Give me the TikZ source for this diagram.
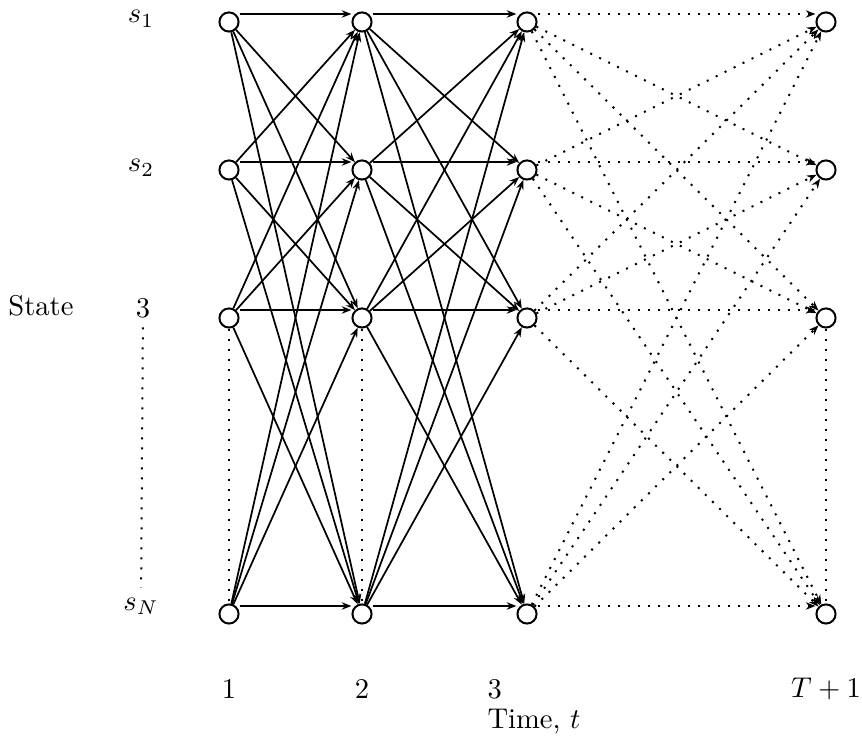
\documentclass[tikz,border=0pt]{standalone}
\usepackage{tikz}
\usetikzlibrary{arrows.meta}

\begin{document}
\begin{tikzpicture}[x=0.35pt,y=-0.35pt,
    st/.style={circle,draw,line width=0.7pt,minimum size=6.7pt,inner sep=0pt},
    tr/.style={line width=0.6pt,-{Stealth[length=3.4pt,width=2.6pt]}},
    dots/.style={line width=0.7pt,dash pattern=on 0.7pt off 2.8pt},
    dtr/.style={dots,-{Stealth[length=3.4pt,width=2.6pt,line width=0.4pt]}}]
  \useasboundingbox (0,0) rectangle (862,742);

  % trellis nodes: columns 1,2,3,T+1 and rows s_1, s_2, 3, s_N
  \foreach \c/\x in {1/229,2/362,3/527,4/826}{
    \foreach \r/\y in {1/22,2/170,3/318,4/614}{
      \node[st] (n\c-\r) at (\x,\y) {};
    }
  }

  % state labels on the left
  \node (l1) at (141,19) {$s_1$};
  \node (l2) at (141,168) {$s_2$};
  \node (l3) at (143,308) {$3$};
  \node (l4) at (141,606) {$s_N$};
  \node (state) at (41,306) {State};
  \draw[dots] (l3) -- (l4);

  % solid transitions 1->2 and 2->3
  \foreach \c/\d in {1/2,2/3}{
    \foreach \i in {1,...,4}{
      \foreach \j in {1,...,4}{
        \ifnum\i=\j
          \draw[tr] ([yshift=2.8pt]n\c-\i.east) -- ([yshift=2.8pt]n\d-\j.west);
        \else
          \draw[tr] (n\c-\i) -- (n\d-\j);
        \fi
      }
    }
  }

  % dotted transitions 3->T+1
  \foreach \i in {1,...,4}{
    \foreach \j in {1,...,4}{
      \ifnum\i=\j
        \draw[dtr] ([yshift=2.8pt]n3-\i.east) -- ([yshift=2.8pt]n4-\j.west);
      \else
        \draw[dtr] (n3-\i) -- (n4-\j);
      \fi
    }
  }

  % remaining states, dotted
  \foreach \c in {1,2,4}
    \draw[dots] (n\c-3) -- (n\c-4);

  % time axis
  \node (t1) at (229,689) {$1$};
  \node (t2) at (362,689) {$2$};
  \node[anchor=west,inner sep=0pt] (t3) at (487,689) {3};
  \node (t4) at (826,689) {$T+1$};
  \node[anchor=west,inner sep=0pt] (time) at (487,722) {Time, $t$};
\end{tikzpicture}
\end{document}
